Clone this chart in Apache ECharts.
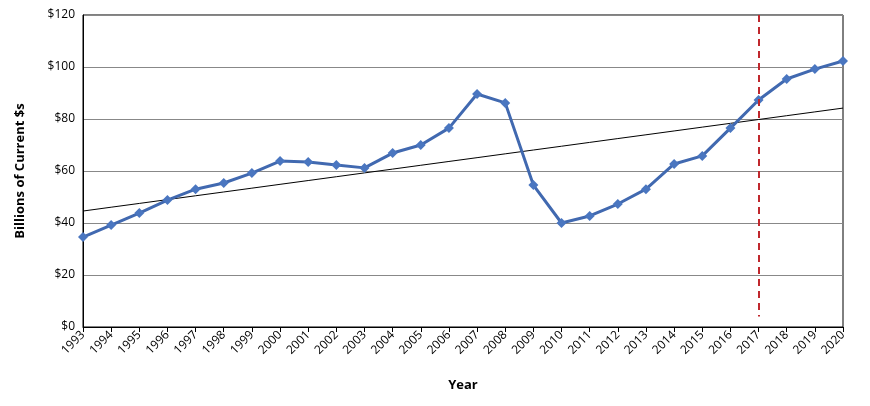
<!DOCTYPE html>
<html><head><meta charset="utf-8">
<script src="https://cdn.jsdelivr.net/npm/echarts@6/dist/echarts.min.js"></script>
<style>html,body{margin:0;padding:0;background:#fff}#c{width:870px;height:406px}</style>
</head><body><div id="c"></div>
<script>
const years = ['1993','1994','1995','1996','1997','1998','1999','2000','2001','2002','2003','2004','2005','2006','2007','2008','2009','2010','2011','2012','2013','2014','2015','2016','2017','2018','2019','2020'];
const values = [34.6,39.2,43.8,48.8,53,55.4,59.2,63.8,63.5,62.3,61.2,66.9,70,76.5,89.6,86.2,54.6,40,42.7,47.3,53,62.7,65.8,76.5,87.3,95.4,99.2,102.3];
const trendStart = 44.6, trendEnd = 84.2;
const yTicks = [0,20,40,60,80,100,120];
const markerYear = '2017';
const font = 'Open Sans';
const chart = echarts.init(document.getElementById('c'));
chart.setOption({
  animation:false,
  grid:{left:83,right:27,top:15,bottom:79,show:true,borderColor:'#000',borderWidth:1},
  xAxis:{type:'category',data:years,boundaryGap:false,name:'Year',nameLocation:'middle',nameGap:52,
    nameTextStyle:{fontFamily:font,fontWeight:'bold',fontSize:13,color:'#000'},
    axisLine:{lineStyle:{color:'#000'}},axisTick:{show:true,alignWithLabel:true,lineStyle:{color:'#000'}},
    axisLabel:{rotate:45,fontFamily:font,fontSize:12,color:'#000',interval:0,margin:6},
    splitLine:{show:false}},
  yAxis:{type:'value',min:yTicks[0],max:yTicks[yTicks.length-1],interval:20,name:'Billions of Current $s',nameLocation:'middle',nameGap:56,
    nameTextStyle:{fontFamily:font,fontWeight:'bold',fontSize:13,color:'#000'},
    axisLine:{show:true,lineStyle:{color:'#000'}},axisTick:{show:false},
    axisLabel:{fontFamily:font,fontSize:12,color:'#000',formatter:v=>'$'+v},
    splitLine:{lineStyle:{color:'#888'}}},
  series:[
    {type:'line',data:values,symbol:'diamond',symbolSize:10,lineStyle:{color:'#4169b0',width:3},
     itemStyle:{color:'#4a76c0'},z:3,
     markLine:{symbol:'none',silent:true,label:{show:false},lineStyle:{color:'#c0282d',type:[7,5],width:2},
       data:[[{coord:[markerYear,120]},{coord:[markerYear,4]}]]}},
    {type:'line',data:years.map((y,i)=>+(trendStart+(trendEnd-trendStart)*i/(years.length-1)).toFixed(2)),
     symbol:'none',lineStyle:{color:'#000',width:1},z:2}
  ]
});
</script></body></html>
